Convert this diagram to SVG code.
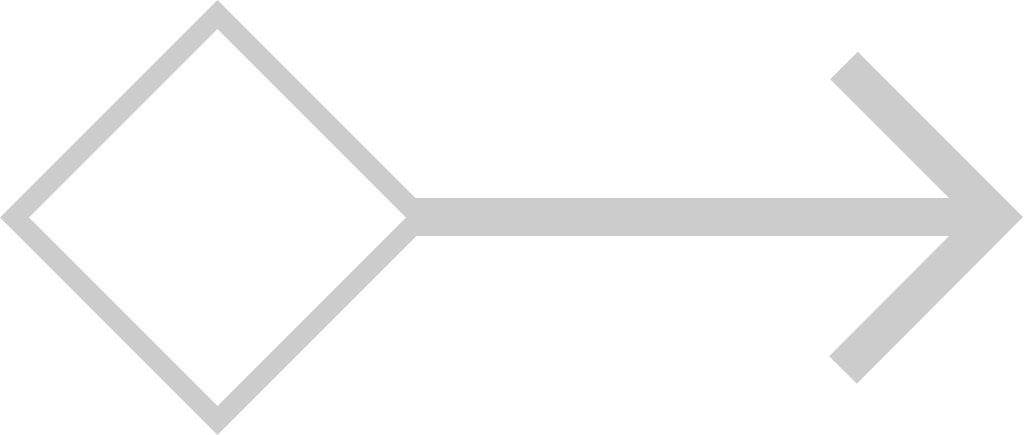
<svg xmlns="http://www.w3.org/2000/svg" width="1024" height="435" viewBox="0 0 1024 435">
<style>
.s{fill:none;stroke:#cccccc;stroke-linejoin:miter;stroke-miterlimit:10;stroke-linecap:butt}
</style>
<rect width="1024" height="435" fill="#ffffff"/>
<g id="diamond">
<polygon class="s" stroke-width="20.5" points="217.5,14.5 420.5,217.5 217.5,420.5 14.5,217.5"/>
</g>
<g id="connectors">
<line class="s" stroke-width="38" x1="412" y1="217" x2="990" y2="217"/>
<polyline class="s" stroke-width="39" points="844,65.5 995.5,217 843,370"/>
</g>
</svg>
